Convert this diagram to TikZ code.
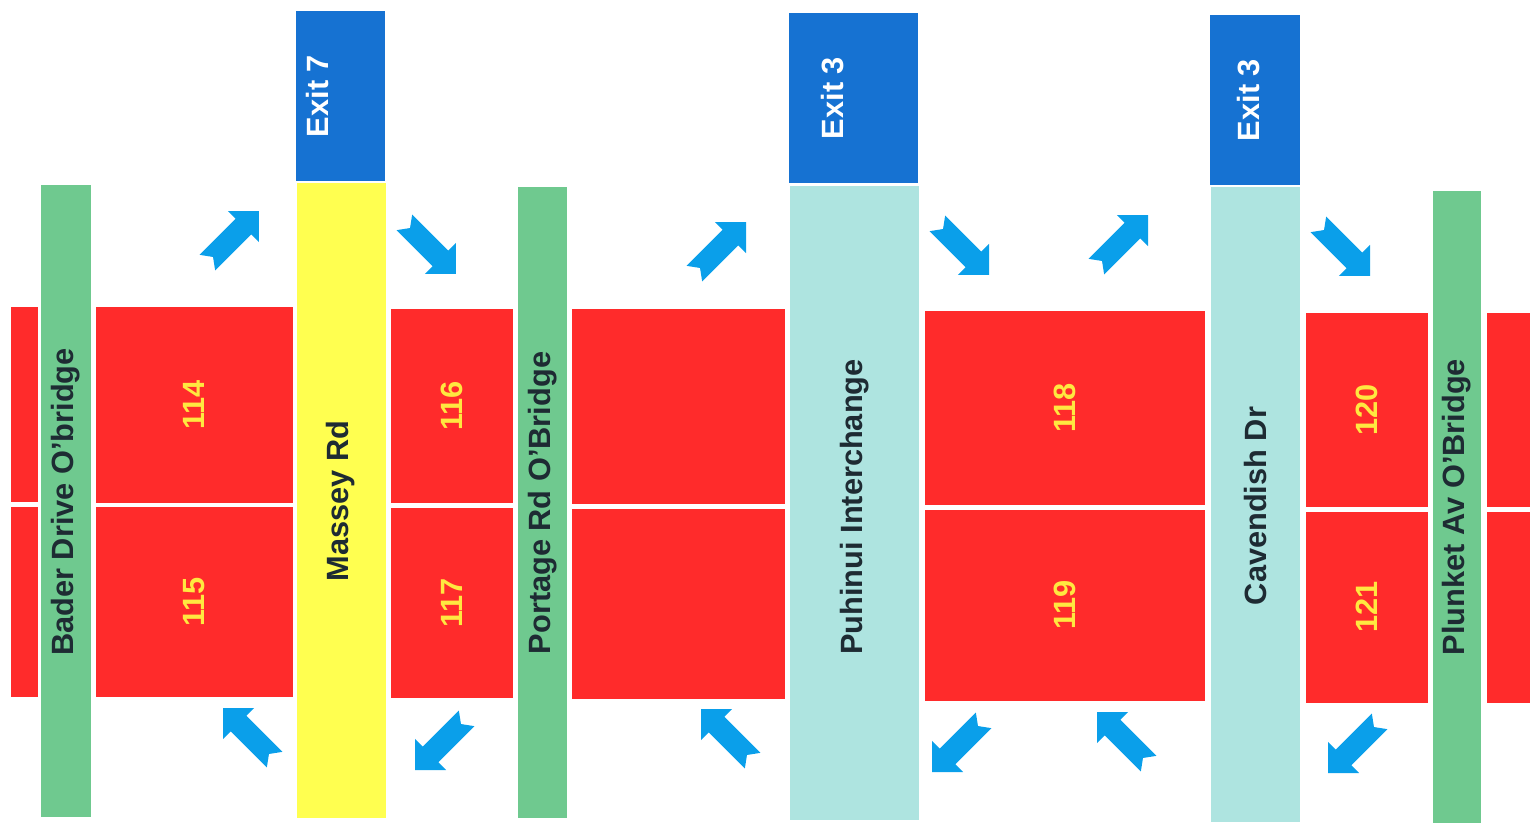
\documentclass[tikz,border=0pt]{standalone}
\usepackage{fontspec}
\setmainfont{Liberation Sans}
\definecolor{bridgegreen}{HTML}{6FC98F}
\definecolor{roadyellow}{HTML}{FFFF50}
\definecolor{junccyan}{HTML}{AEE4E0}
\definecolor{exitblue}{HTML}{1672D2}
\definecolor{zonered}{HTML}{FF2B2B}
\definecolor{flowblue}{HTML}{0A9FEA}
\definecolor{darktext}{HTML}{1E2B33}
\definecolor{numyellow}{HTML}{FFE840}
\begin{document}
\begin{tikzpicture}[x=0.02cm,y=-0.02cm,
  lbl/.style={rotate=90,inner sep=0pt,font=\bfseries\fontsize{17.5}{20}\selectfont,text=darktext},
  numlbl/.style={lbl,text=numyellow},
  exitlbl/.style={lbl,text=white},
  flow/.pic={\fill[flowblue] (-32,11) -- (19,11) -- (19,22) -- (41,0) -- (19,-22) -- (19,-11) -- (-32,-11) -- (-24,0) -- cycle;}]
\useasboundingbox (0,0) rectangle (1535,832);
% red zones
\fill[zonered] (11,307) rectangle (38,502);
\fill[zonered] (11,507) rectangle (38,697);
\fill[zonered] (96,307) rectangle (293,503);
\fill[zonered] (96,507) rectangle (293,697);
\fill[zonered] (391,309) rectangle (513,503);
\fill[zonered] (391,508) rectangle (513,698);
\fill[zonered] (572,309) rectangle (785,504);
\fill[zonered] (572,509) rectangle (785,699);
\fill[zonered] (925,311) rectangle (1205,505);
\fill[zonered] (925,510) rectangle (1205,701);
\fill[zonered] (1306,313) rectangle (1428,507);
\fill[zonered] (1306,512) rectangle (1428,703);
\fill[zonered] (1487,313) rectangle (1530,507);
\fill[zonered] (1487,512) rectangle (1530,703);
\node[numlbl] (z114) at (194,405) {114};
\node[numlbl] (z115) at (194,602) {115};
\node[numlbl] (z116) at (452,406) {116};
\node[numlbl] (z117) at (452,603) {117};
\node[numlbl] (z118) at (1065,408) {118};
\node[numlbl] (z119) at (1065,605) {119};
\node[numlbl] (z120) at (1367,410) {120};
\node[numlbl] (z121) at (1367,607) {121};
% bridges and roads
\fill[bridgegreen] (41,185) rectangle (91,817);
\node[lbl] (bader) at (66,502) {Bader Drive O'bridge};
\fill[roadyellow] (297,183) rectangle (386,818);
\node[lbl] (massey) at (341,501) {Massey Rd};
\fill[bridgegreen] (518,187) rectangle (567,818);
\node[lbl] (portage) at (543,503) {Portage Rd O'Bridge};
\fill[junccyan] (790,186) rectangle (919,820);
\node[lbl] (puhinui) at (855,507) {Puhinui Interchange};
\fill[junccyan] (1211,187) rectangle (1300,822);
\node[lbl] (cavendish) at (1255,506) {Cavendish Dr};
\fill[bridgegreen] (1433,191) rectangle (1481,823);
\node[lbl] (plunket) at (1457,507) {Plunket Av O'Bridge};
% exits
\fill[exitblue] (296,11) rectangle (385,181);
\node[exitlbl] (exitseven) at (317,96) {Exit 7};
\fill[exitblue] (789,13) rectangle (918,183);
\node[exitlbl] (exitthreea) at (833,98) {Exit 3};
\fill[exitblue] (1210,15) rectangle (1300,185);
\node[exitlbl] (exitthreeb) at (1249,100) {Exit 3};
% traffic arrows
\foreach \x/\y/\a in {230/240/45, 427/245/-45, 252/737/135, 444/741/225,
    717/251/45, 960/246/-45, 1119/244/45, 1341/247/-45,
    730/738/135, 961/743/225, 1126/741/135, 1357/744/225}
  \pic[rotate=\a] at (\x,\y) {flow};
\end{tikzpicture}
\end{document}
